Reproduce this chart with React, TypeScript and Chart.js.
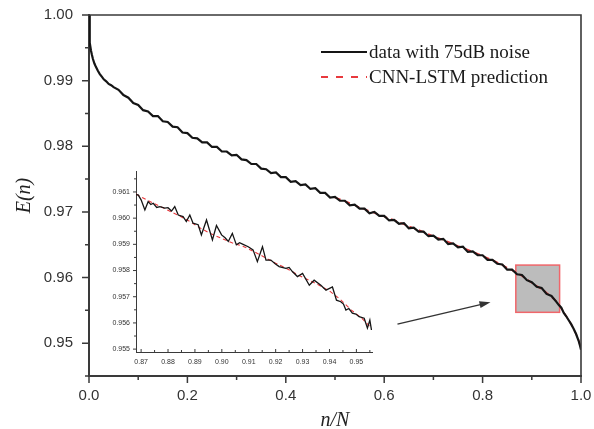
import React, { useEffect, useRef } from 'react';
import { Chart, registerables } from 'chart.js';

Chart.register(...registerables);

// ---------- data ----------
const mainX = [
  0, 0.001, 0.002, 0.004, 0.006, 0.008, 0.011, 0.014, 0.018, 0.022, 0.026, 0.03, 0.035, 0.04, 0.045,
  0.05, 0.06, 0.07, 0.08, 0.09, 0.1, 0.11, 0.12, 0.13, 0.14, 0.15, 0.16, 0.17, 0.18, 0.19,
  0.2, 0.21, 0.22, 0.23, 0.24, 0.25, 0.26, 0.27, 0.28, 0.29, 0.3, 0.31, 0.32, 0.33, 0.34,
  0.35, 0.36, 0.37, 0.38, 0.39, 0.4, 0.41, 0.42, 0.43, 0.44, 0.45, 0.46, 0.47, 0.48, 0.49,
  0.5, 0.51, 0.52, 0.53, 0.54, 0.55, 0.56, 0.57, 0.58, 0.59, 0.6, 0.61, 0.62, 0.63, 0.64,
  0.65, 0.66, 0.67, 0.68, 0.69, 0.7, 0.71, 0.72, 0.73, 0.74, 0.75, 0.76, 0.77, 0.78, 0.79,
  0.8, 0.81, 0.82, 0.83, 0.84, 0.85, 0.86, 0.87, 0.88, 0.89, 0.9, 0.91, 0.92, 0.93, 0.94,
  0.95, 0.955, 0.96, 0.965, 0.97, 0.975, 0.98, 0.985, 0.99, 0.995, 0.998, 1.0,
];
const mainNoisy = [
  1.0, 0.9972, 0.9958, 0.9946, 0.9939, 0.9933, 0.9926, 0.9921, 0.9915, 0.991, 0.9906, 0.9902, 0.9899, 0.9895, 0.9893,
  0.989, 0.9886, 0.9878, 0.9874, 0.9866, 0.9863, 0.9855, 0.9853, 0.9846, 0.9846, 0.9838, 0.9837, 0.983, 0.9829, 0.9821,
  0.982, 0.9813, 0.9812, 0.9806, 0.9806, 0.9799, 0.9799, 0.9792, 0.9792, 0.9786, 0.9787, 0.978, 0.9779, 0.9773, 0.9773,
  0.9766, 0.9765, 0.9759, 0.976, 0.9753, 0.9753, 0.9746, 0.9747, 0.9741, 0.9742, 0.9735, 0.9736, 0.9729, 0.9729, 0.9722,
  0.9723, 0.9717, 0.9717, 0.971, 0.9711, 0.9705, 0.9705, 0.9698, 0.97, 0.9694, 0.9694, 0.9687, 0.9688, 0.9682, 0.9683,
  0.9675, 0.9676, 0.967, 0.967, 0.9663, 0.9664, 0.9658, 0.9659, 0.9651, 0.9652, 0.9646, 0.9647, 0.9639, 0.964, 0.9634,
  0.9634, 0.9627, 0.9627, 0.9621, 0.962, 0.9612, 0.9612, 0.9605, 0.9604, 0.9596, 0.9593, 0.9586, 0.9584, 0.9575, 0.9572,
  0.9563, 0.9558, 0.9554, 0.9546, 0.9541, 0.9535, 0.9529, 0.9522, 0.9514, 0.9504, 0.9496, 0.949,
];
const predX = [
  0.5, 0.525, 0.55, 0.575, 0.6, 0.625, 0.65, 0.675, 0.7, 0.725, 0.75, 0.775, 0.8, 0.825, 0.85,
  0.875, 0.9, 0.925, 0.95, 0.96, 0.97, 0.98, 0.99, 0.995, 1.0,
];
const predY = [
  0.9722, 0.9715, 0.9707, 0.97, 0.9693, 0.9686, 0.9678, 0.9671, 0.9663, 0.9656, 0.9648, 0.9641, 0.9633, 0.9625, 0.9615,
  0.9605, 0.9592, 0.958, 0.9564, 0.9553, 0.9541, 0.9529, 0.9514, 0.9505, 0.9492,
];

const insetX = [
  0.8681, 0.8689, 0.87, 0.8714, 0.8726, 0.8736, 0.8745, 0.8758, 0.877, 0.8788, 0.88, 0.8813, 0.8825, 0.8838,
  0.8856, 0.8868, 0.8881, 0.8893, 0.8912, 0.8924, 0.8943, 0.8965, 0.898, 0.8999, 0.9012, 0.9024, 0.9039,
  0.9054, 0.9066, 0.9079, 0.9098, 0.9116, 0.9132, 0.9151, 0.9164, 0.9182, 0.9198, 0.9213, 0.9238, 0.925,
  0.9262, 0.9281, 0.93, 0.9325, 0.9343, 0.9368, 0.9387, 0.9411, 0.9426, 0.9442, 0.9452, 0.9461, 0.9472,
  0.9485, 0.9498, 0.951, 0.9529, 0.9541, 0.955, 0.9556,
];
const insetNoisy = [
  0.9609, 0.96089, 0.9607, 0.96031, 0.96063, 0.96052, 0.96057, 0.96041, 0.96044, 0.96038, 0.9604, 0.96027, 0.96044, 0.96012,
  0.96006, 0.95987, 0.96012, 0.95981, 0.95975, 0.95936, 0.95993, 0.95917, 0.95972, 0.95936, 0.95925, 0.95911, 0.95942,
  0.95898, 0.95906, 0.959, 0.95891, 0.95879, 0.95834, 0.95891, 0.9584, 0.9584, 0.95826, 0.95815, 0.95808, 0.95812,
  0.95796, 0.95777, 0.95789, 0.95744, 0.95763, 0.95744, 0.95725, 0.95737, 0.95687, 0.95681, 0.95672, 0.95649, 0.95655,
  0.95637, 0.95634, 0.95624, 0.95618, 0.9558, 0.95611, 0.95573,
];
const insetPredX = [
  0.8681, 0.872, 0.876, 0.88, 0.884, 0.888, 0.892, 0.896, 0.9, 0.904, 0.908, 0.912, 0.916, 0.92, 0.924, 0.928,
  0.932, 0.936, 0.94, 0.944, 0.948, 0.952, 0.9556,
];
const insetPredY = [
  0.96092, 0.9607, 0.9605, 0.9603, 0.9601, 0.95988, 0.95962, 0.9594, 0.95922, 0.95905, 0.95892, 0.95872, 0.9585, 0.95828,
  0.95808, 0.95785, 0.95765, 0.95745, 0.95722, 0.9569, 0.9565, 0.95618, 0.9558,
];

const legendLabels = ['data with 75dB noise', 'CNN-LSTM prediction'];
const axisTitles = { x: 'n/N', y: 'E(n)' };
const zoomBoxX = [0.8675, 0.9565];
const zoomBoxY = [0.9547, 0.9619];
const arrowFrom = [0.627, 0.9529];
const arrowTo = [0.816, 0.95625];

// ---------- helpers ----------
const SANS = '"Liberation Sans", Arial, sans-serif';
const SERIF = '"Liberation Serif", "Times New Roman", serif';
const BLACK = '#151515';
const RED = '#e8393d';
const AXIS = '#3a3a3a';

const isMultiple = (v: number, inv: number) => {
  const r = Math.round(v * inv);
  return Math.abs(v * inv - r) < 1e-6 ? r : null;
};

const zeroPad = (s: any) => {
  s.paddingTop = 0;
  s.paddingBottom = 0;
  s.paddingLeft = 0;
  s.paddingRight = 0;
};

function drawTicks(chart: any, cfg: any) {
  const { ctx, chartArea: a } = chart;
  const xs = chart.scales.x;
  const ys = chart.scales.y;
  ctx.save();
  ctx.strokeStyle = cfg.color;
  ctx.lineWidth = cfg.lw;
  ctx.beginPath();
  xs.ticks.forEach((t: any) => {
    if (t.value < xs.min - 1e-9 || t.value > xs.max + 1e-9) return;
    const px = xs.getPixelForValue(t.value);
    const len = cfg.xMajor(t.value) ? cfg.major : cfg.minor;
    ctx.moveTo(px, a.bottom);
    ctx.lineTo(px, a.bottom + cfg.xDir * len);
  });
  ys.ticks.forEach((t: any) => {
    if (t.value < ys.min - 1e-9 || t.value > ys.max + 1e-9) return;
    const py = ys.getPixelForValue(t.value);
    const len = cfg.yMajor(t.value) ? cfg.major : cfg.minor;
    ctx.moveTo(a.left, py);
    ctx.lineTo(a.left - len, py);
  });
  ctx.stroke();
  ctx.restore();
}

const mainXMajor = (v: number) => {
  const r = isMultiple(v, 10);
  return r !== null && r % 2 === 0;
};
const mainYMajor = (v: number) => {
  const r = isMultiple(v, 200);
  return r !== null && r % 2 === 0;
};
const insetXMajor = (v: number) => {
  const r = isMultiple(v, 200);
  return r !== null && r % 2 === 0;
};
const insetYMajor = (v: number) => {
  const r = isMultiple(v, 2000);
  return r !== null && r % 2 === 0;
};

const mainDecor = {
  id: 'mainDecor',
  beforeDatasetsDraw(chart: any) {
    const { ctx } = chart;
    const xs = chart.scales.x;
    const ys = chart.scales.y;
    const x0 = xs.getPixelForValue(zoomBoxX[0]);
    const x1 = xs.getPixelForValue(zoomBoxX[1]);
    const y0 = ys.getPixelForValue(zoomBoxY[1]);
    const y1 = ys.getPixelForValue(zoomBoxY[0]);
    ctx.save();
    ctx.fillStyle = '#bcbcbc';
    ctx.fillRect(x0, y0, x1 - x0, y1 - y0);
    ctx.strokeStyle = '#f0666a';
    ctx.lineWidth = 1.5;
    ctx.strokeRect(x0, y0, x1 - x0, y1 - y0);
    ctx.restore();
  },
  afterDatasetsDraw(chart: any) {
    const { ctx, chartArea: a } = chart;
    const xs = chart.scales.x;
    const ys = chart.scales.y;
    // frame (top / right)
    ctx.save();
    ctx.strokeStyle = AXIS;
    ctx.lineWidth = 1.6;
    ctx.beginPath();
    ctx.moveTo(a.left, a.top);
    ctx.lineTo(a.right, a.top);
    ctx.lineTo(a.right, a.bottom);
    ctx.stroke();
    ctx.restore();

    drawTicks(chart, { color: AXIS, lw: 1.5, major: 7, minor: 4, xDir: 1, xMajor: mainXMajor, yMajor: mainYMajor });

    // arrow
    const ax0 = xs.getPixelForValue(arrowFrom[0]);
    const ay0 = ys.getPixelForValue(arrowFrom[1]);
    const ax1 = xs.getPixelForValue(arrowTo[0]);
    const ay1 = ys.getPixelForValue(arrowTo[1]);
    const ang = Math.atan2(ay1 - ay0, ax1 - ax0);
    ctx.save();
    ctx.strokeStyle = '#333';
    ctx.fillStyle = '#333';
    ctx.lineWidth = 1.3;
    ctx.beginPath();
    ctx.moveTo(ax0, ay0);
    ctx.lineTo(ax1 - 6 * Math.cos(ang), ay1 - 6 * Math.sin(ang));
    ctx.stroke();
    ctx.beginPath();
    ctx.moveTo(ax1, ay1);
    ctx.lineTo(ax1 - 11 * Math.cos(ang) + 3.5 * Math.sin(ang), ay1 - 11 * Math.sin(ang) - 3.5 * Math.cos(ang));
    ctx.lineTo(ax1 - 11 * Math.cos(ang) - 3.5 * Math.sin(ang), ay1 - 11 * Math.sin(ang) + 3.5 * Math.cos(ang));
    ctx.closePath();
    ctx.fill();
    ctx.restore();

    // legend
    const lx = a.left + 232;
    const ly = a.top + 37;
    const rowH = 25;
    ctx.save();
    ctx.lineWidth = 2;
    ctx.strokeStyle = BLACK;
    ctx.beginPath();
    ctx.moveTo(lx, ly);
    ctx.lineTo(lx + 46, ly);
    ctx.stroke();
    ctx.strokeStyle = RED;
    ctx.setLineDash([7, 8]);
    ctx.beginPath();
    ctx.moveTo(lx, ly + rowH);
    ctx.lineTo(lx + 46, ly + rowH);
    ctx.stroke();
    ctx.setLineDash([]);
    ctx.fillStyle = '#1a1a1a';
    ctx.font = `19px ${SERIF}`;
    ctx.textBaseline = 'middle';
    ctx.textAlign = 'left';
    ctx.fillText(legendLabels[0], lx + 48, ly + 1);
    ctx.fillText(legendLabels[1], lx + 48, ly + rowH + 1);
    ctx.restore();
  },
};

const insetDecor = {
  id: 'insetDecor',
  afterDatasetsDraw(chart: any) {
    drawTicks(chart, { color: AXIS, lw: 1, major: 3, minor: 2, xDir: -1, xMajor: insetXMajor, yMajor: insetYMajor });
  },
};

export default function App() {
  const mainRef = useRef<HTMLCanvasElement>(null);
  const insetRef = useRef<HTMLCanvasElement>(null);

  useEffect(() => {
    const main = new Chart(mainRef.current as HTMLCanvasElement, {
      type: 'line',
      data: {
        datasets: [
          {
            label: legendLabels[0],
            data: mainX.map((x, i) => ({ x, y: mainNoisy[i] })),
            borderColor: BLACK,
            borderWidth: 2.2,
            pointRadius: 0,
            tension: 0,
          },
          {
            label: legendLabels[1],
            data: predX.map((x, i) => ({ x, y: predY[i] })),
            borderColor: RED,
            borderWidth: 1.6,
            borderDash: [6, 4],
            pointRadius: 0,
            tension: 0,
          },
        ],
      },
      options: {
        animation: false,
        responsive: false,
        layout: { autoPadding: false, padding: { left: 0, top: 15, right: 13, bottom: 0 } },
        plugins: { legend: { display: false }, tooltip: { enabled: false } },
        scales: {
          x: {
            type: 'linear',
            min: 0,
            max: 1,
            afterFit: (s: any) => { s.height = 53; zeroPad(s); },
            grid: { display: false, drawTicks: false },
            border: { display: true, color: AXIS, width: 2 },
            ticks: {
              stepSize: 0.1,
              autoSkip: false,
              maxRotation: 0,
              padding: 11,
              color: '#333',
              font: { family: SANS, size: 15 },
              callback: (v: any) => (mainXMajor(v) ? (Math.round(v * 10) / 10).toFixed(1) : ''),
            },
            title: {
              display: true,
              text: axisTitles.x,
              color: '#222',
              font: { family: SERIF, size: 20, style: 'italic' },
              padding: { top: 0, bottom: -4 },
            },
          },
          y: {
            type: 'linear',
            min: 0.945,
            max: 1.0,
            afterFit: (s: any) => { s.width = 89; zeroPad(s); },
            grid: { display: false, drawTicks: false },
            border: { display: true, color: AXIS, width: 2 },
            ticks: {
              stepSize: 0.005,
              autoSkip: false,
              padding: 16,
              color: '#333',
              font: { family: SANS, size: 15 },
              callback: (v: any) => (mainYMajor(v) ? (Math.round(v * 100) / 100).toFixed(2) : ''),
            },
            title: {
              display: true,
              text: axisTitles.y,
              color: '#222',
              font: { family: SERIF, size: 20, style: 'italic' },
              padding: { top: 13, bottom: 0 },
            },
          },
        },
      },
      plugins: [mainDecor],
    } as any);

    const inset = new Chart(insetRef.current as HTMLCanvasElement, {
      type: 'line',
      data: {
        datasets: [
          {
            data: insetX.map((x, i) => ({ x, y: insetNoisy[i] })),
            borderColor: BLACK,
            borderWidth: 1.3,
            pointRadius: 0,
            tension: 0,
          },
          {
            data: insetPredX.map((x, i) => ({ x, y: insetPredY[i] })),
            borderColor: RED,
            borderWidth: 1.1,
            borderDash: [4, 3],
            pointRadius: 0,
            tension: 0,
          },
        ],
      },
      options: {
        animation: false,
        responsive: false,
        layout: { autoPadding: false, padding: { left: 0, top: 11, right: 13, bottom: 0 } },
        plugins: { legend: { display: false }, tooltip: { enabled: false } },
        scales: {
          x: {
            type: 'linear',
            min: 0.8681,
            max: 0.9558,
            afterFit: (s: any) => { s.height = 23; zeroPad(s); },
            grid: { display: false, drawTicks: false },
            border: { display: true, color: AXIS, width: 1 },
            ticks: {
              stepSize: 0.005,
              includeBounds: false,
              autoSkip: false,
              maxRotation: 0,
              padding: 6,
              color: '#333',
              font: { family: SANS, size: 7 },
              callback: (v: any) => (insetXMajor(v) ? (Math.round(v * 100) / 100).toFixed(2) : ''),
            },
          },
          y: {
            type: 'linear',
            min: 0.95489,
            max: 0.9618,
            afterFit: (s: any) => { s.width = 36; zeroPad(s); },
            grid: { display: false, drawTicks: false },
            border: { display: true, color: AXIS, width: 1 },
            ticks: {
              stepSize: 0.0005,
              includeBounds: false,
              autoSkip: false,
              padding: 6,
              color: '#333',
              font: { family: SANS, size: 7 },
              callback: (v: any) => (insetYMajor(v) ? (Math.round(v * 1000) / 1000).toFixed(3) : ''),
            },
          },
        },
      },
      plugins: [insetDecor],
    } as any);

    return () => {
      main.destroy();
      inset.destroy();
    };
  }, []);

  return (
    <div style={{ position: 'absolute', left: 0, top: 0, width: 594, height: 429, background: '#fff' }}>
      <canvas ref={mainRef} width={594} height={429} style={{ position: 'absolute', left: 0, top: 0, width: 594, height: 429 }} />
      <canvas ref={insetRef} width={285} height={215} style={{ position: 'absolute', left: 100, top: 160, width: 285, height: 215 }} />
    </div>
  );
}
